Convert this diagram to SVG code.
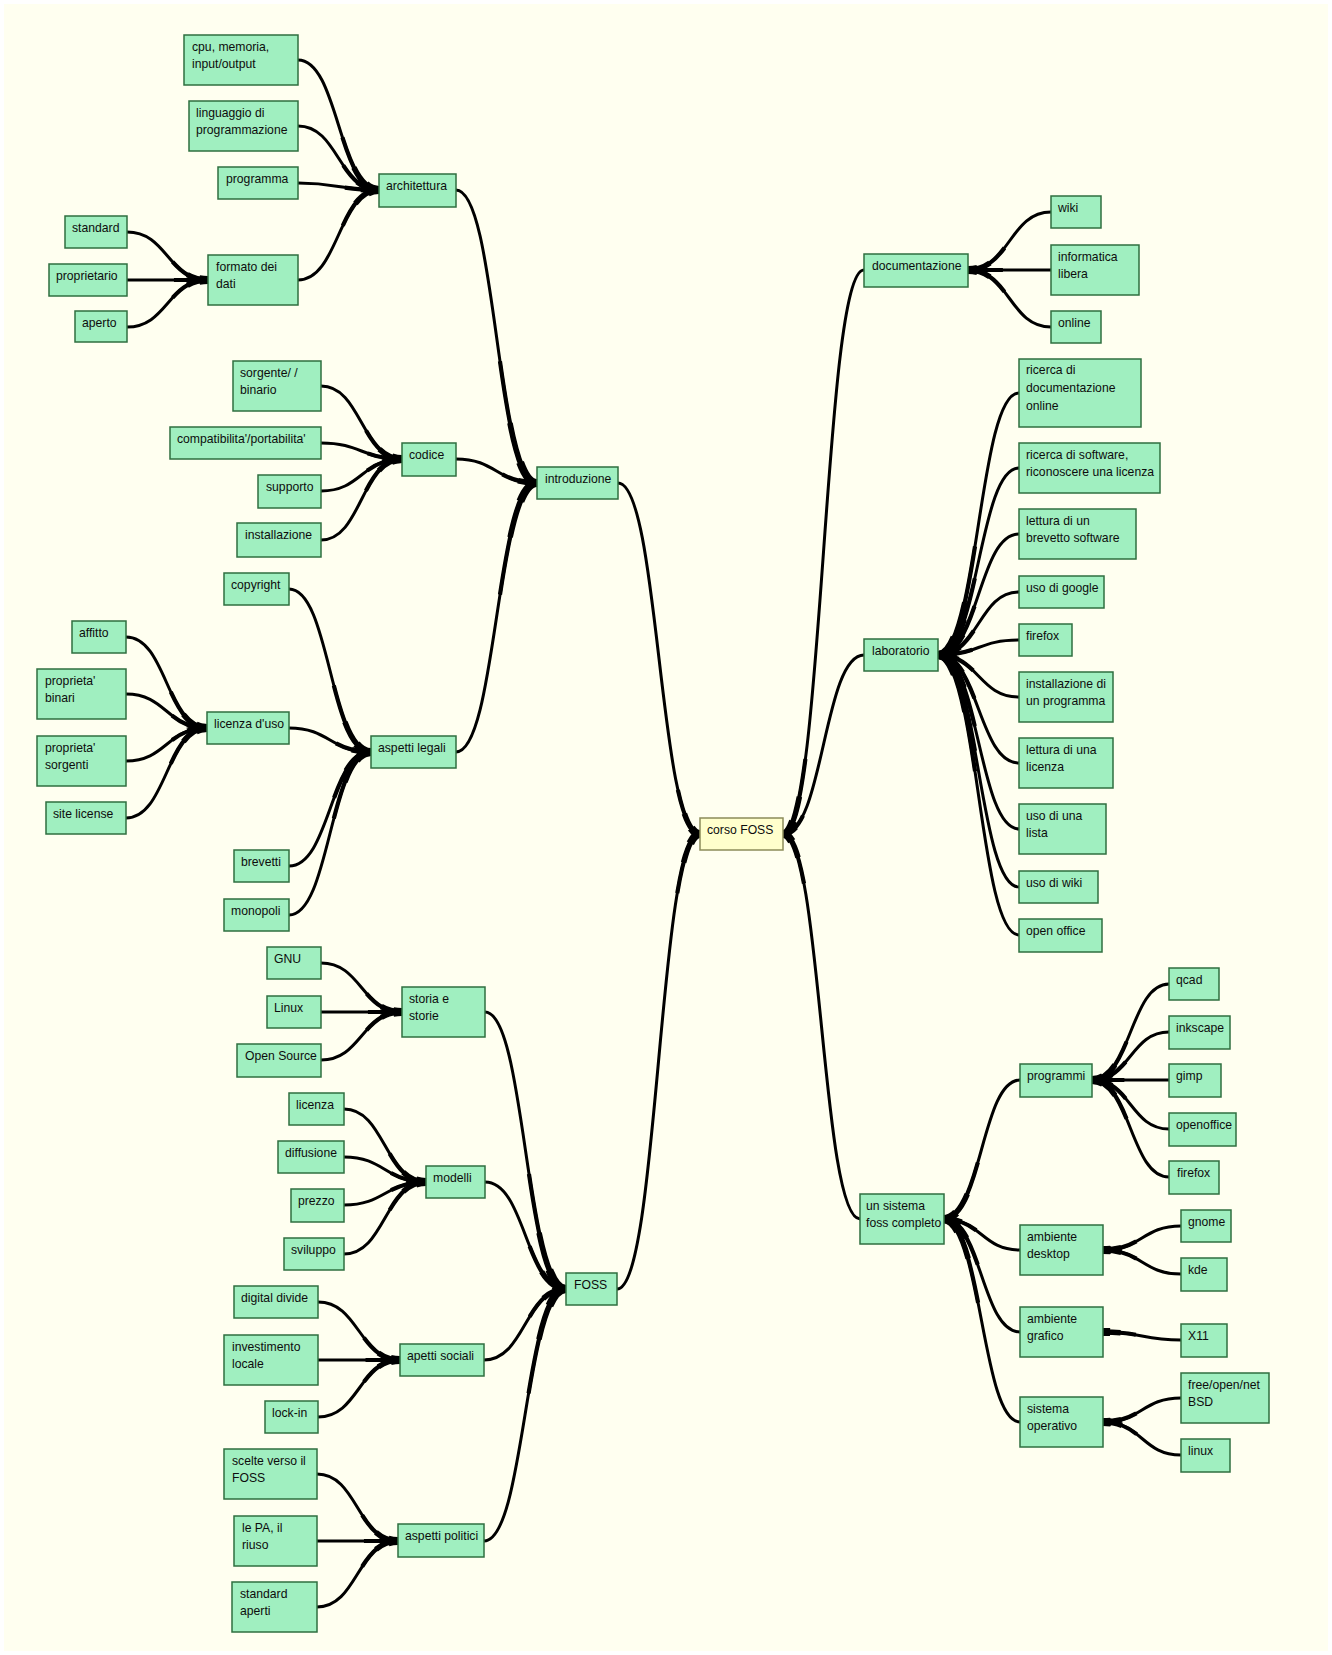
<svg xmlns="http://www.w3.org/2000/svg" xmlns:xlink="http://www.w3.org/1999/xlink" width="1332" height="1655" viewBox="0 0 1332 1655">
<style>
.n{fill:#a0efc0;stroke:#2f6f3f;stroke-width:1.5}
.r{fill:#ffffcc;stroke:#8c8c5a;stroke-width:1.5}
.t{font-family:"Liberation Sans",Arial,sans-serif;font-size:12.2px;fill:#0d0d0d}
.c{fill:none;stroke:#000;stroke-width:3}
.a{fill:none;stroke:#000;stroke-width:4.2;stroke-dasharray:42 1000}
.b{fill:none;stroke:#000;stroke-width:5.6;stroke-dasharray:22 1000}
.k{fill:none;stroke:#000;stroke-width:8;stroke-dasharray:9 1000}
</style>
<defs>
<path id="p1" pathLength="300" d="M700 834C659 834 659 483 618 483"/>
<path id="p2" pathLength="300" d="M700 834C658.5 834 658.5 1289 617 1289"/>
<path id="p3" pathLength="100" d="M537 483C496.5 483 496.5 190 456 190"/>
<path id="p4" pathLength="100" d="M537 483C496.5 483 496.5 459 456 459"/>
<path id="p5" pathLength="100" d="M537 483C496.5 483 496.5 752 456 752"/>
<path id="p6" pathLength="100" d="M379 190C338.5 190 338.5 60 298 60"/>
<path id="p7" pathLength="100" d="M379 190C338.5 190 338.5 126 298 126"/>
<path id="p8" pathLength="100" d="M379 190C338.5 190 338.5 183 298 183"/>
<path id="p9" pathLength="100" d="M379 190C338.5 190 338.5 280 298 280"/>
<path id="p10" pathLength="100" d="M208 280C167.5 280 167.5 232 127 232"/>
<path id="p11" pathLength="100" d="M208 280C167.5 280 167.5 280 127 280"/>
<path id="p12" pathLength="100" d="M208 280C167.5 280 167.5 327 127 327"/>
<path id="p13" pathLength="100" d="M402 459C361.5 459 361.5 386 321 386"/>
<path id="p14" pathLength="100" d="M402 459C361.5 459 361.5 443 321 443"/>
<path id="p15" pathLength="100" d="M402 459C361.5 459 361.5 491 321 491"/>
<path id="p16" pathLength="100" d="M402 459C361.5 459 361.5 540 321 540"/>
<path id="p17" pathLength="100" d="M371 752C330 752 330 589 289 589"/>
<path id="p18" pathLength="100" d="M371 752C330 752 330 728 289 728"/>
<path id="p19" pathLength="100" d="M371 752C330 752 330 866 289 866"/>
<path id="p20" pathLength="100" d="M371 752C330 752 330 915 289 915"/>
<path id="p21" pathLength="100" d="M207 728C166.5 728 166.5 637 126 637"/>
<path id="p22" pathLength="100" d="M207 728C166.5 728 166.5 694 126 694"/>
<path id="p23" pathLength="100" d="M207 728C166.5 728 166.5 761 126 761"/>
<path id="p24" pathLength="100" d="M207 728C166.5 728 166.5 818 126 818"/>
<path id="p25" pathLength="100" d="M566 1289C525.5 1289 525.5 1012 485 1012"/>
<path id="p26" pathLength="100" d="M566 1289C525.5 1289 525.5 1182 485 1182"/>
<path id="p27" pathLength="100" d="M566 1289C525 1289 525 1360 484 1360"/>
<path id="p28" pathLength="100" d="M566 1289C525 1289 525 1541 484 1541"/>
<path id="p29" pathLength="100" d="M402 1012C361.5 1012 361.5 963 321 963"/>
<path id="p30" pathLength="100" d="M402 1012C361.5 1012 361.5 1012 321 1012"/>
<path id="p31" pathLength="100" d="M402 1012C361.5 1012 361.5 1060 321 1060"/>
<path id="p32" pathLength="100" d="M426 1182C385 1182 385 1109 344 1109"/>
<path id="p33" pathLength="100" d="M426 1182C385 1182 385 1157 344 1157"/>
<path id="p34" pathLength="100" d="M426 1182C385 1182 385 1205 344 1205"/>
<path id="p35" pathLength="100" d="M426 1182C385 1182 385 1254 344 1254"/>
<path id="p36" pathLength="100" d="M400 1360C359 1360 359 1302 318 1302"/>
<path id="p37" pathLength="100" d="M400 1360C359 1360 359 1360 318 1360"/>
<path id="p38" pathLength="100" d="M400 1360C359 1360 359 1417 318 1417"/>
<path id="p39" pathLength="100" d="M398 1541C357.5 1541 357.5 1474 317 1474"/>
<path id="p40" pathLength="100" d="M398 1541C357.5 1541 357.5 1541 317 1541"/>
<path id="p41" pathLength="100" d="M398 1541C357.5 1541 357.5 1607 317 1607"/>
<path id="p42" pathLength="300" d="M783 834C823.5 834 823.5 270 864 270"/>
<path id="p43" pathLength="300" d="M783 834C823.5 834 823.5 655 864 655"/>
<path id="p44" pathLength="300" d="M783 834C821.5 834 821.5 1219 860 1219"/>
<path id="p45" pathLength="100" d="M968 270C1009.5 270 1009.5 212 1051 212"/>
<path id="p46" pathLength="100" d="M968 270C1009.5 270 1009.5 270 1051 270"/>
<path id="p47" pathLength="100" d="M968 270C1009.5 270 1009.5 327 1051 327"/>
<path id="p48" pathLength="100" d="M938 655C978.5 655 978.5 393 1019 393"/>
<path id="p49" pathLength="100" d="M938 655C978.5 655 978.5 468 1019 468"/>
<path id="p50" pathLength="100" d="M938 655C978.5 655 978.5 534 1019 534"/>
<path id="p51" pathLength="100" d="M938 655C978.5 655 978.5 592 1019 592"/>
<path id="p52" pathLength="100" d="M938 655C978.5 655 978.5 640 1019 640"/>
<path id="p53" pathLength="100" d="M938 655C978.5 655 978.5 697 1019 697"/>
<path id="p54" pathLength="100" d="M938 655C978.5 655 978.5 763 1019 763"/>
<path id="p55" pathLength="100" d="M938 655C978.5 655 978.5 829 1019 829"/>
<path id="p56" pathLength="100" d="M938 655C978.5 655 978.5 887 1019 887"/>
<path id="p57" pathLength="100" d="M938 655C978.5 655 978.5 935 1019 935"/>
<path id="p58" pathLength="100" d="M943 1219C981.5 1219 981.5 1080 1020 1080"/>
<path id="p59" pathLength="100" d="M943 1219C981.5 1219 981.5 1250 1020 1250"/>
<path id="p60" pathLength="100" d="M943 1219C981.5 1219 981.5 1332 1020 1332"/>
<path id="p61" pathLength="100" d="M943 1219C981.5 1219 981.5 1422 1020 1422"/>
<path id="p62" pathLength="100" d="M1092 1080C1130.5 1080 1130.5 984 1169 984"/>
<path id="p63" pathLength="100" d="M1092 1080C1130.5 1080 1130.5 1032 1169 1032"/>
<path id="p64" pathLength="100" d="M1092 1080C1130.5 1080 1130.5 1080 1169 1080"/>
<path id="p65" pathLength="100" d="M1092 1080C1130.5 1080 1130.5 1129 1169 1129"/>
<path id="p66" pathLength="100" d="M1092 1080C1130.5 1080 1130.5 1177 1169 1177"/>
<path id="p67" pathLength="100" d="M1103 1250C1142 1250 1142 1226 1181 1226"/>
<path id="p68" pathLength="100" d="M1103 1250C1142 1250 1142 1274 1181 1274"/>
<path id="p69" pathLength="100" d="M1103 1332C1142 1332 1142 1340 1181 1340"/>
<path id="p70" pathLength="100" d="M1103 1422C1142 1422 1142 1398 1181 1398"/>
<path id="p71" pathLength="100" d="M1103 1422C1142 1422 1142 1455 1181 1455"/>
</defs>
<rect x="0" y="0" width="1332" height="1655" fill="#ffffff"/>
<rect x="4" y="4" width="1324" height="1647" fill="#fffff0"/>
<g id="connectors">
<use href="#p1" class="c"/><use href="#p1" class="a"/><use href="#p1" class="b"/><use href="#p1" class="k"/>
<use href="#p2" class="c"/><use href="#p2" class="a"/><use href="#p2" class="b"/><use href="#p2" class="k"/>
<use href="#p3" class="c"/><use href="#p3" class="a"/><use href="#p3" class="b"/><use href="#p3" class="k"/>
<use href="#p4" class="c"/><use href="#p4" class="a"/><use href="#p4" class="b"/><use href="#p4" class="k"/>
<use href="#p5" class="c"/><use href="#p5" class="a"/><use href="#p5" class="b"/><use href="#p5" class="k"/>
<use href="#p6" class="c"/><use href="#p6" class="a"/><use href="#p6" class="b"/><use href="#p6" class="k"/>
<use href="#p7" class="c"/><use href="#p7" class="a"/><use href="#p7" class="b"/><use href="#p7" class="k"/>
<use href="#p8" class="c"/><use href="#p8" class="a"/><use href="#p8" class="b"/><use href="#p8" class="k"/>
<use href="#p9" class="c"/><use href="#p9" class="a"/><use href="#p9" class="b"/><use href="#p9" class="k"/>
<use href="#p10" class="c"/><use href="#p10" class="a"/><use href="#p10" class="b"/><use href="#p10" class="k"/>
<use href="#p11" class="c"/><use href="#p11" class="a"/><use href="#p11" class="b"/><use href="#p11" class="k"/>
<use href="#p12" class="c"/><use href="#p12" class="a"/><use href="#p12" class="b"/><use href="#p12" class="k"/>
<use href="#p13" class="c"/><use href="#p13" class="a"/><use href="#p13" class="b"/><use href="#p13" class="k"/>
<use href="#p14" class="c"/><use href="#p14" class="a"/><use href="#p14" class="b"/><use href="#p14" class="k"/>
<use href="#p15" class="c"/><use href="#p15" class="a"/><use href="#p15" class="b"/><use href="#p15" class="k"/>
<use href="#p16" class="c"/><use href="#p16" class="a"/><use href="#p16" class="b"/><use href="#p16" class="k"/>
<use href="#p17" class="c"/><use href="#p17" class="a"/><use href="#p17" class="b"/><use href="#p17" class="k"/>
<use href="#p18" class="c"/><use href="#p18" class="a"/><use href="#p18" class="b"/><use href="#p18" class="k"/>
<use href="#p19" class="c"/><use href="#p19" class="a"/><use href="#p19" class="b"/><use href="#p19" class="k"/>
<use href="#p20" class="c"/><use href="#p20" class="a"/><use href="#p20" class="b"/><use href="#p20" class="k"/>
<use href="#p21" class="c"/><use href="#p21" class="a"/><use href="#p21" class="b"/><use href="#p21" class="k"/>
<use href="#p22" class="c"/><use href="#p22" class="a"/><use href="#p22" class="b"/><use href="#p22" class="k"/>
<use href="#p23" class="c"/><use href="#p23" class="a"/><use href="#p23" class="b"/><use href="#p23" class="k"/>
<use href="#p24" class="c"/><use href="#p24" class="a"/><use href="#p24" class="b"/><use href="#p24" class="k"/>
<use href="#p25" class="c"/><use href="#p25" class="a"/><use href="#p25" class="b"/><use href="#p25" class="k"/>
<use href="#p26" class="c"/><use href="#p26" class="a"/><use href="#p26" class="b"/><use href="#p26" class="k"/>
<use href="#p27" class="c"/><use href="#p27" class="a"/><use href="#p27" class="b"/><use href="#p27" class="k"/>
<use href="#p28" class="c"/><use href="#p28" class="a"/><use href="#p28" class="b"/><use href="#p28" class="k"/>
<use href="#p29" class="c"/><use href="#p29" class="a"/><use href="#p29" class="b"/><use href="#p29" class="k"/>
<use href="#p30" class="c"/><use href="#p30" class="a"/><use href="#p30" class="b"/><use href="#p30" class="k"/>
<use href="#p31" class="c"/><use href="#p31" class="a"/><use href="#p31" class="b"/><use href="#p31" class="k"/>
<use href="#p32" class="c"/><use href="#p32" class="a"/><use href="#p32" class="b"/><use href="#p32" class="k"/>
<use href="#p33" class="c"/><use href="#p33" class="a"/><use href="#p33" class="b"/><use href="#p33" class="k"/>
<use href="#p34" class="c"/><use href="#p34" class="a"/><use href="#p34" class="b"/><use href="#p34" class="k"/>
<use href="#p35" class="c"/><use href="#p35" class="a"/><use href="#p35" class="b"/><use href="#p35" class="k"/>
<use href="#p36" class="c"/><use href="#p36" class="a"/><use href="#p36" class="b"/><use href="#p36" class="k"/>
<use href="#p37" class="c"/><use href="#p37" class="a"/><use href="#p37" class="b"/><use href="#p37" class="k"/>
<use href="#p38" class="c"/><use href="#p38" class="a"/><use href="#p38" class="b"/><use href="#p38" class="k"/>
<use href="#p39" class="c"/><use href="#p39" class="a"/><use href="#p39" class="b"/><use href="#p39" class="k"/>
<use href="#p40" class="c"/><use href="#p40" class="a"/><use href="#p40" class="b"/><use href="#p40" class="k"/>
<use href="#p41" class="c"/><use href="#p41" class="a"/><use href="#p41" class="b"/><use href="#p41" class="k"/>
<use href="#p42" class="c"/><use href="#p42" class="a"/><use href="#p42" class="b"/><use href="#p42" class="k"/>
<use href="#p43" class="c"/><use href="#p43" class="a"/><use href="#p43" class="b"/><use href="#p43" class="k"/>
<use href="#p44" class="c"/><use href="#p44" class="a"/><use href="#p44" class="b"/><use href="#p44" class="k"/>
<use href="#p45" class="c"/><use href="#p45" class="a"/><use href="#p45" class="b"/><use href="#p45" class="k"/>
<use href="#p46" class="c"/><use href="#p46" class="a"/><use href="#p46" class="b"/><use href="#p46" class="k"/>
<use href="#p47" class="c"/><use href="#p47" class="a"/><use href="#p47" class="b"/><use href="#p47" class="k"/>
<use href="#p48" class="c"/><use href="#p48" class="a"/><use href="#p48" class="b"/><use href="#p48" class="k"/>
<use href="#p49" class="c"/><use href="#p49" class="a"/><use href="#p49" class="b"/><use href="#p49" class="k"/>
<use href="#p50" class="c"/><use href="#p50" class="a"/><use href="#p50" class="b"/><use href="#p50" class="k"/>
<use href="#p51" class="c"/><use href="#p51" class="a"/><use href="#p51" class="b"/><use href="#p51" class="k"/>
<use href="#p52" class="c"/><use href="#p52" class="a"/><use href="#p52" class="b"/><use href="#p52" class="k"/>
<use href="#p53" class="c"/><use href="#p53" class="a"/><use href="#p53" class="b"/><use href="#p53" class="k"/>
<use href="#p54" class="c"/><use href="#p54" class="a"/><use href="#p54" class="b"/><use href="#p54" class="k"/>
<use href="#p55" class="c"/><use href="#p55" class="a"/><use href="#p55" class="b"/><use href="#p55" class="k"/>
<use href="#p56" class="c"/><use href="#p56" class="a"/><use href="#p56" class="b"/><use href="#p56" class="k"/>
<use href="#p57" class="c"/><use href="#p57" class="a"/><use href="#p57" class="b"/><use href="#p57" class="k"/>
<use href="#p58" class="c"/><use href="#p58" class="a"/><use href="#p58" class="b"/><use href="#p58" class="k"/>
<use href="#p59" class="c"/><use href="#p59" class="a"/><use href="#p59" class="b"/><use href="#p59" class="k"/>
<use href="#p60" class="c"/><use href="#p60" class="a"/><use href="#p60" class="b"/><use href="#p60" class="k"/>
<use href="#p61" class="c"/><use href="#p61" class="a"/><use href="#p61" class="b"/><use href="#p61" class="k"/>
<use href="#p62" class="c"/><use href="#p62" class="a"/><use href="#p62" class="b"/><use href="#p62" class="k"/>
<use href="#p63" class="c"/><use href="#p63" class="a"/><use href="#p63" class="b"/><use href="#p63" class="k"/>
<use href="#p64" class="c"/><use href="#p64" class="a"/><use href="#p64" class="b"/><use href="#p64" class="k"/>
<use href="#p65" class="c"/><use href="#p65" class="a"/><use href="#p65" class="b"/><use href="#p65" class="k"/>
<use href="#p66" class="c"/><use href="#p66" class="a"/><use href="#p66" class="b"/><use href="#p66" class="k"/>
<use href="#p67" class="c"/><use href="#p67" class="a"/><use href="#p67" class="b"/><use href="#p67" class="k"/>
<use href="#p68" class="c"/><use href="#p68" class="a"/><use href="#p68" class="b"/><use href="#p68" class="k"/>
<use href="#p69" class="c"/><use href="#p69" class="a"/><use href="#p69" class="b"/><use href="#p69" class="k"/>
<use href="#p70" class="c"/><use href="#p70" class="a"/><use href="#p70" class="b"/><use href="#p70" class="k"/>
<use href="#p71" class="c"/><use href="#p71" class="a"/><use href="#p71" class="b"/><use href="#p71" class="k"/>
</g>
<g id="n-corso"><rect class="r" x="700" y="818" width="83" height="32"/><text class="t" x="707" y="834">corso FOSS</text></g>
<g id="n-introduzione"><rect class="n" x="537" y="467" width="81" height="32"/><text class="t" x="545" y="483">introduzione</text></g>
<g id="n-architettura"><rect class="n" x="379" y="174" width="77" height="33"/><text class="t" x="386" y="190">architettura</text></g>
<g id="n-cpu"><rect class="n" x="184" y="35" width="114" height="50"/><text class="t" x="192" y="50.5">cpu, memoria,<tspan x="192" dy="17.5">input/output</tspan></text></g>
<g id="n-linguaggio"><rect class="n" x="189" y="101" width="109" height="50"/><text class="t" x="196" y="116.5">linguaggio di<tspan x="196" dy="17.5">programmazione</tspan></text></g>
<g id="n-programma"><rect class="n" x="218" y="167" width="80" height="32"/><text class="t" x="226" y="183">programma</text></g>
<g id="n-formato"><rect class="n" x="208" y="255" width="90" height="50"/><text class="t" x="216" y="270.5">formato dei<tspan x="216" dy="17.5">dati</tspan></text></g>
<g id="n-standard"><rect class="n" x="65" y="216" width="62" height="32"/><text class="t" x="72" y="232">standard</text></g>
<g id="n-proprietario"><rect class="n" x="49" y="264" width="78" height="32"/><text class="t" x="56" y="280">proprietario</text></g>
<g id="n-aperto"><rect class="n" x="75" y="311" width="52" height="31"/><text class="t" x="82" y="327">aperto</text></g>
<g id="n-codice"><rect class="n" x="402" y="443" width="54" height="33"/><text class="t" x="409" y="459">codice</text></g>
<g id="n-sorgente"><rect class="n" x="233" y="361" width="88" height="50"/><text class="t" x="240" y="376.5">sorgente/ /<tspan x="240" dy="17.5">binario</tspan></text></g>
<g id="n-compat"><rect class="n" x="170" y="427" width="151" height="32"/><text class="t" x="177" y="443">compatibilita'/portabilita'</text></g>
<g id="n-supporto"><rect class="n" x="258" y="475" width="63" height="33"/><text class="t" x="266" y="491">supporto</text></g>
<g id="n-installazione"><rect class="n" x="237" y="523" width="84" height="34"/><text class="t" x="245" y="539">installazione</text></g>
<g id="n-aspetti-legali"><rect class="n" x="371" y="736" width="85" height="32"/><text class="t" x="378" y="752">aspetti legali</text></g>
<g id="n-copyright"><rect class="n" x="224" y="573" width="65" height="32"/><text class="t" x="231" y="589">copyright</text></g>
<g id="n-licenza-uso"><rect class="n" x="207" y="712" width="82" height="32"/><text class="t" x="214" y="728">licenza d'uso</text></g>
<g id="n-affitto"><rect class="n" x="72" y="621" width="54" height="32"/><text class="t" x="79" y="637">affitto</text></g>
<g id="n-prop-binari"><rect class="n" x="37" y="669" width="89" height="50"/><text class="t" x="45" y="684.5">proprieta'<tspan x="45" dy="17.5">binari</tspan></text></g>
<g id="n-prop-sorgenti"><rect class="n" x="37" y="736" width="89" height="50"/><text class="t" x="45" y="751.5">proprieta'<tspan x="45" dy="17.5">sorgenti</tspan></text></g>
<g id="n-site-license"><rect class="n" x="46" y="802" width="80" height="32"/><text class="t" x="53" y="818">site license</text></g>
<g id="n-brevetti"><rect class="n" x="234" y="850" width="55" height="32"/><text class="t" x="241" y="866">brevetti</text></g>
<g id="n-monopoli"><rect class="n" x="224" y="899" width="65" height="32"/><text class="t" x="231" y="915">monopoli</text></g>
<g id="n-foss"><rect class="n" x="566" y="1273" width="51" height="32"/><text class="t" x="574" y="1289">FOSS</text></g>
<g id="n-storia"><rect class="n" x="402" y="987" width="83" height="50"/><text class="t" x="409" y="1002.5">storia e<tspan x="409" dy="17.5">storie</tspan></text></g>
<g id="n-gnu"><rect class="n" x="267" y="947" width="54" height="32"/><text class="t" x="274" y="963">GNU</text></g>
<g id="n-linux-l"><rect class="n" x="267" y="996" width="54" height="32"/><text class="t" x="274" y="1012">Linux</text></g>
<g id="n-opensource"><rect class="n" x="237" y="1044" width="84" height="33"/><text class="t" x="245" y="1060">Open Source</text></g>
<g id="n-modelli"><rect class="n" x="426" y="1166" width="59" height="32"/><text class="t" x="433" y="1182">modelli</text></g>
<g id="n-licenza"><rect class="n" x="289" y="1093" width="55" height="32"/><text class="t" x="296" y="1109">licenza</text></g>
<g id="n-diffusione"><rect class="n" x="278" y="1141" width="66" height="32"/><text class="t" x="285" y="1157">diffusione</text></g>
<g id="n-prezzo"><rect class="n" x="291" y="1189" width="53" height="33"/><text class="t" x="298" y="1205">prezzo</text></g>
<g id="n-sviluppo"><rect class="n" x="284" y="1238" width="60" height="32"/><text class="t" x="291" y="1254">sviluppo</text></g>
<g id="n-sociali"><rect class="n" x="400" y="1344" width="84" height="32"/><text class="t" x="407" y="1360">apetti sociali</text></g>
<g id="n-digital"><rect class="n" x="234" y="1286" width="84" height="32"/><text class="t" x="241" y="1302">digital divide</text></g>
<g id="n-investimento"><rect class="n" x="224" y="1335" width="94" height="50"/><text class="t" x="232" y="1350.5">investimento<tspan x="232" dy="17.5">locale</tspan></text></g>
<g id="n-lockin"><rect class="n" x="265" y="1401" width="53" height="32"/><text class="t" x="272" y="1417">lock-in</text></g>
<g id="n-politici"><rect class="n" x="398" y="1524" width="86" height="33"/><text class="t" x="405" y="1540">aspetti politici</text></g>
<g id="n-scelte"><rect class="n" x="224" y="1449" width="93" height="50"/><text class="t" x="232" y="1464.5">scelte verso il<tspan x="232" dy="17.5">FOSS</tspan></text></g>
<g id="n-pa"><rect class="n" x="234" y="1516" width="83" height="50"/><text class="t" x="242" y="1531.5">le PA, il<tspan x="242" dy="17.5">riuso</tspan></text></g>
<g id="n-std-aperti"><rect class="n" x="232" y="1582" width="85" height="50"/><text class="t" x="240" y="1597.5">standard<tspan x="240" dy="17.5">aperti</tspan></text></g>
<g id="n-documentazione"><rect class="n" x="864" y="254" width="104" height="33"/><text class="t" x="872" y="270">documentazione</text></g>
<g id="n-wiki"><rect class="n" x="1051" y="196" width="50" height="32"/><text class="t" x="1058" y="212">wiki</text></g>
<g id="n-informatica"><rect class="n" x="1051" y="245" width="88" height="50"/><text class="t" x="1058" y="260.5">informatica<tspan x="1058" dy="17.5">libera</tspan></text></g>
<g id="n-online"><rect class="n" x="1051" y="311" width="50" height="32"/><text class="t" x="1058" y="327">online</text></g>
<g id="n-laboratorio"><rect class="n" x="864" y="639" width="74" height="32"/><text class="t" x="872" y="655">laboratorio</text></g>
<g id="n-ricerca-doc"><rect class="n" x="1019" y="359" width="122" height="68"/><text class="t" x="1026" y="374">ricerca di<tspan x="1026" dy="18">documentazione</tspan><tspan x="1026" dy="18">online</tspan></text></g>
<g id="n-ricerca-sw"><rect class="n" x="1019" y="443" width="141" height="50"/><text class="t" x="1026" y="458.5">ricerca di software,<tspan x="1026" dy="17.5">riconoscere una licenza</tspan></text></g>
<g id="n-brevetto"><rect class="n" x="1019" y="509" width="117" height="50"/><text class="t" x="1026" y="524.5">lettura di un<tspan x="1026" dy="17.5">brevetto software</tspan></text></g>
<g id="n-google"><rect class="n" x="1019" y="576" width="85" height="32"/><text class="t" x="1026" y="592">uso di google</text></g>
<g id="n-firefox-l"><rect class="n" x="1019" y="624" width="53" height="32"/><text class="t" x="1026" y="640">firefox</text></g>
<g id="n-inst-prog"><rect class="n" x="1019" y="672" width="94" height="50"/><text class="t" x="1026" y="687.5">installazione di<tspan x="1026" dy="17.5">un programma</tspan></text></g>
<g id="n-lett-licenza"><rect class="n" x="1019" y="738" width="94" height="50"/><text class="t" x="1026" y="753.5">lettura di una<tspan x="1026" dy="17.5">licenza</tspan></text></g>
<g id="n-lista"><rect class="n" x="1019" y="804" width="87" height="50"/><text class="t" x="1026" y="819.5">uso di una<tspan x="1026" dy="17.5">lista</tspan></text></g>
<g id="n-uso-wiki"><rect class="n" x="1019" y="871" width="79" height="32"/><text class="t" x="1026" y="887">uso di wiki</text></g>
<g id="n-openoffice-l"><rect class="n" x="1019" y="919" width="83" height="33"/><text class="t" x="1026" y="935">open office</text></g>
<g id="n-sistema"><rect class="n" x="860" y="1194" width="84" height="50"/><text class="t" x="866" y="1209.5">un sistema<tspan x="866" dy="17.5">foss completo</tspan></text></g>
<g id="n-programmi"><rect class="n" x="1020" y="1064" width="72" height="33"/><text class="t" x="1027" y="1080">programmi</text></g>
<g id="n-qcad"><rect class="n" x="1169" y="968" width="50" height="32"/><text class="t" x="1176" y="984">qcad</text></g>
<g id="n-inkscape"><rect class="n" x="1169" y="1016" width="61" height="33"/><text class="t" x="1176" y="1032">inkscape</text></g>
<g id="n-gimp"><rect class="n" x="1169" y="1064" width="52" height="33"/><text class="t" x="1176" y="1080">gimp</text></g>
<g id="n-openoffice"><rect class="n" x="1169" y="1113" width="67" height="33"/><text class="t" x="1176" y="1129">openoffice</text></g>
<g id="n-firefox"><rect class="n" x="1169" y="1161" width="50" height="33"/><text class="t" x="1177" y="1177">firefox</text></g>
<g id="n-desktop"><rect class="n" x="1020" y="1225" width="83" height="50"/><text class="t" x="1027" y="1240.5">ambiente<tspan x="1027" dy="17.5">desktop</tspan></text></g>
<g id="n-gnome"><rect class="n" x="1181" y="1210" width="50" height="32"/><text class="t" x="1188" y="1226">gnome</text></g>
<g id="n-kde"><rect class="n" x="1181" y="1258" width="46" height="33"/><text class="t" x="1188" y="1274">kde</text></g>
<g id="n-grafico"><rect class="n" x="1020" y="1307" width="83" height="50"/><text class="t" x="1027" y="1322.5">ambiente<tspan x="1027" dy="17.5">grafico</tspan></text></g>
<g id="n-x11"><rect class="n" x="1181" y="1324" width="46" height="33"/><text class="t" x="1188" y="1340">X11</text></g>
<g id="n-so"><rect class="n" x="1020" y="1397" width="83" height="50"/><text class="t" x="1027" y="1412.5">sistema<tspan x="1027" dy="17.5">operativo</tspan></text></g>
<g id="n-bsd"><rect class="n" x="1181" y="1373" width="88" height="50"/><text class="t" x="1188" y="1388.5">free/open/net<tspan x="1188" dy="17.5">BSD</tspan></text></g>
<g id="n-linux"><rect class="n" x="1181" y="1439" width="49" height="33"/><text class="t" x="1188" y="1455">linux</text></g>
</svg>
